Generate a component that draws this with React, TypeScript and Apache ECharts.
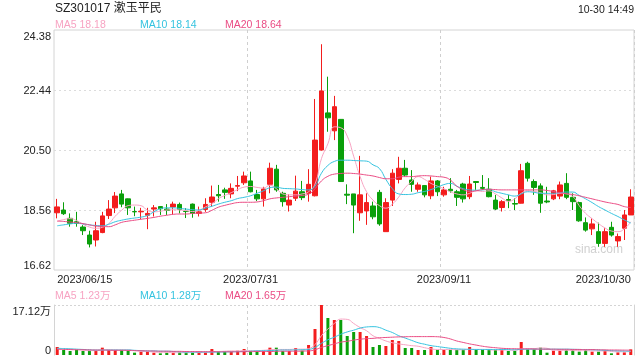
import React, { useEffect, useRef } from "react";
import * as echarts from "echarts";

const dates = [
  "2023/06/15","2023/06/16","2023/06/19","2023/06/20","2023/06/21","2023/06/26","2023/06/27","2023/06/28","2023/06/29","2023/06/30",
  "2023/07/03","2023/07/04","2023/07/05","2023/07/06","2023/07/07","2023/07/10","2023/07/11","2023/07/12","2023/07/13","2023/07/14",
  "2023/07/17","2023/07/18","2023/07/19","2023/07/20","2023/07/21","2023/07/24","2023/07/25","2023/07/26","2023/07/27","2023/07/28",
  "2023/07/31","2023/08/01","2023/08/02","2023/08/03","2023/08/04","2023/08/07","2023/08/08","2023/08/09","2023/08/10","2023/08/11",
  "2023/08/14","2023/08/15","2023/08/16","2023/08/17","2023/08/18","2023/08/21","2023/08/22","2023/08/23","2023/08/24","2023/08/25",
  "2023/08/28","2023/08/29","2023/08/30","2023/08/31","2023/09/01","2023/09/04","2023/09/05","2023/09/06","2023/09/07","2023/09/08",
  "2023/09/11","2023/09/12","2023/09/13","2023/09/14","2023/09/15","2023/09/18","2023/09/19","2023/09/20","2023/09/21","2023/09/22",
  "2023/09/25","2023/09/26","2023/09/27","2023/09/28","2023/10/09","2023/10/10","2023/10/11","2023/10/12","2023/10/13","2023/10/16",
  "2023/10/17","2023/10/18","2023/10/19","2023/10/20","2023/10/23","2023/10/24","2023/10/25","2023/10/26","2023/10/27","2023/10/30",
];

const openP = [18.47,18.56,18.29,18.18,18.01,17.75,17.59,17.83,18.38,18.63, 19.08,18.92,18.51,18.50,18.39,18.59,18.67,18.59,18.66,18.74, 18.52,18.75,18.45,18.58,18.81,19.06,19.21,19.08,19.33,19.44, 19.50,19.06,18.92,19.39,19.88,19.10,18.72,18.94,19.15,19.10, 19.02,20.50,21.70,21.12,21.49,19.07,19.08,18.47,18.53,18.69, 19.13,17.86,18.88,19.55,19.91,19.53,19.23,19.35,19.02,19.50, 19.05,19.23,19.15,19.40,18.99,19.48,19.29,19.23,18.88,18.64, 18.90,18.77,18.78,20.07,19.48,19.34,18.85,18.92,19.01,19.42, 18.97,18.80,18.15,17.95,17.86,17.48,18.00,17.56,17.97,18.40];
const closeP = [18.66,18.44,18.13,18.13,17.89,17.46,17.89,18.37,18.59,19.01, 18.75,18.63,18.50,18.52,18.45,18.63,18.60,18.55,18.75,18.58, 18.51,18.45,18.50,18.74,18.98,19.02,19.13,19.26,19.35,19.66, 19.15,18.92,19.24,19.91,19.21,18.83,18.88,19.17,18.96,19.39, 20.82,22.41,21.54,21.90,19.48,19.04,18.72,19.05,18.80,18.34, 18.11,18.80,19.75,19.91,19.69,19.39,19.37,19.05,19.50,19.15, 19.21,19.18,18.97,18.92,19.40,19.45,19.26,18.99,18.59,18.83, 18.87,18.75,19.83,19.59,19.29,18.78,18.82,19.18,19.37,18.97, 18.83,18.21,17.91,18.11,17.48,17.86,17.75,17.70,18.40,18.98];
const lowP = [18.29,18.40,18.02,18.02,17.75,17.35,17.38,17.81,18.27,18.46, 18.65,18.40,18.36,18.27,17.94,18.35,18.40,18.40,18.42,18.45, 18.30,18.31,18.35,18.50,18.67,18.83,18.92,18.94,19.17,19.37, 19.13,18.85,18.67,19.10,19.15,18.67,18.51,18.85,18.88,18.83, 19.00,20.48,21.09,20.82,19.47,18.75,17.81,18.21,18.08,18.26, 18.05,17.86,18.69,19.42,19.64,19.15,19.15,18.97,18.91,19.01, 18.99,19.12,18.69,18.80,18.91,19.21,19.21,18.97,18.56,18.51, 18.62,18.56,18.77,19.48,19.05,18.47,18.78,18.88,18.91,18.91, 18.56,18.18,17.86,17.75,17.37,17.37,17.70,17.37,17.59,18.40];
const highP = [18.92,18.81,18.45,18.50,18.07,17.89,18.18,18.50,18.88,19.14, 19.21,18.93,18.67,18.63,18.63,18.72,18.68,18.75,18.83,18.80, 18.62,18.77,18.67,18.94,19.35,19.37,19.28,19.42,19.66,19.80, 19.80,19.21,19.31,20.09,20.02,19.15,19.07,19.67,19.50,19.88, 22.15,23.92,22.87,22.25,21.50,19.39,19.08,20.31,19.10,18.83, 19.21,18.94,19.88,20.28,20.18,19.85,19.45,19.36,19.64,19.53, 19.31,19.59,19.21,19.44,19.66,19.48,19.69,19.59,19.05,18.88, 19.05,18.94,20.05,20.12,19.55,19.42,19.31,19.21,19.48,19.75, 19.10,18.83,18.32,18.29,18.15,17.97,18.18,17.80,18.56,19.23];

const ma5 = [18.20,18.25,18.28,18.22,18.10,18.01,17.97,18.00,18.12,18.36, 18.55,18.70,18.72,18.70,18.55,18.50,18.52,18.56,18.57,18.56, 18.54,18.51,18.55,18.66,18.76,18.92,19.03,19.12,19.22,19.30, 19.32,19.29,19.27,19.36,19.25,19.08,19.05,19.05,19.08,19.15, 19.40,20.22,20.70,21.25,21.22,20.95,20.30,19.64,19.15,18.88, 18.70,18.62,18.75,18.98,19.28,19.48,19.64,19.55,19.42,19.33, 19.25,19.15,19.08,19.05,19.10,19.18,19.16,19.18,19.08,18.95, 18.84,18.92,19.10,19.18,19.16,19.12,19.05,19.06,19.10,19.08, 19.00,18.70,18.45,18.28,18.12,17.98,17.88,17.86,17.95,18.18];
const ma10 = [18.05,18.08,18.11,18.13,18.11,18.08,18.06,18.05,18.10,18.18, 18.23,18.27,18.30,18.33,18.38,18.50,18.60,18.63,18.63,18.61, 18.59,18.57,18.56,18.62,18.68,18.75,18.81,18.86,18.93,18.97, 19.02,19.10,19.18,19.28,19.30,19.26,19.25,19.24,19.22,19.21, 19.33,19.75,20.00,20.13,20.17,20.17,20.16,20.15,20.14,20.02, 19.90,19.55,19.25,19.08,19.06,19.07,19.12,19.16,19.22,19.30, 19.38,19.42,19.33,19.25,19.21,19.20,19.21,19.23,19.15,19.10, 19.05,19.01,19.08,19.15,19.13,19.10,19.10,19.10,19.12,19.14, 19.14,19.03,18.92,18.80,18.67,18.56,18.45,18.35,18.24,18.14];
const ma20 = [18.20,18.19,18.17,18.15,18.12,18.08,18.04,18.03,18.02,18.08, 18.16,18.20,18.23,18.26,18.29,18.32,18.36,18.39,18.42,18.43, 18.43,18.45,18.46,18.47,18.55,18.65,18.71,18.76,18.80,18.81, 18.81,18.82,18.86,18.92,18.95,18.97,18.99,19.01,19.03,19.07, 19.25,19.50,19.65,19.72,19.74,19.75,19.74,19.72,19.69,19.66, 19.61,19.57,19.57,19.62,19.64,19.64,19.66,19.67,19.66,19.64, 19.62,19.53,19.33,19.22,19.16,19.18,19.22,19.23,19.22,19.21, 19.21,19.21,19.21,19.21,19.21,19.21,19.19,19.16,19.12,19.09, 19.06,19.02,18.97,18.92,18.87,18.82,18.78,18.74,18.67,18.64];

// volume in 万
const volume = [2.74,1.71,1.37,1.71,1.37,1.37,1.37,2.51,1.71,1.71, 1.71,1.37,0.80,1.14,1.14,0.80,0.57,0.80,0.80,0.91, 0.91,0.80,0.80,0.91,2.05,1.37,1.14,1.14,1.48,2.05, 1.37,1.14,1.37,2.51,2.51,1.37,1.37,2.40,1.48,3.42, 8.90,17.12,12.67,11.98,11.98,6.51,7.88,7.88,6.51,2.74, 3.42,3.08,5.14,4.79,2.40,2.40,1.71,1.71,2.74,1.71, 1.71,1.71,1.71,1.71,2.74,1.71,1.71,1.71,1.71,1.71, 1.37,1.37,4.45,1.94,1.94,2.51,0.80,1.48,1.48,1.71, 1.71,1.14,1.71,1.14,1.14,1.37,0.57,0.91,0.91,1.94];
const volMa5 = [2.2,2.1,2.0,1.9,1.7,1.5,1.5,1.7,1.8,1.8, 1.8,1.8,1.5,1.3,1.2,1.0,0.9,0.9,0.8,0.8, 0.8,0.85,0.85,0.85,1.1,1.2,1.3,1.4,1.4,1.5, 1.5,1.5,1.6,1.8,1.9,1.9,1.9,2.0,2.0,2.2, 3.6,6.6,8.9,10.8,12.3,12.2,10.8,9.4,8.3,6.6, 5.7,4.8,4.2,3.8,3.5,3.2,3.0,2.5,2.1,1.9, 1.9,1.9,1.8,1.8,1.9,1.9,1.9,1.8,1.7,1.7, 1.7,1.6,2.1,2.2,2.2,2.4,2.3,1.6,1.6,1.6, 1.5,1.5,1.5,1.4,1.4,1.4,1.2,1.1,1.1,1.23];
const volMa10 = [2.3,2.2,2.1,2.0,1.9,1.8,1.7,1.7,1.7,1.7, 1.7,1.7,1.6,1.5,1.4,1.4,1.3,1.3,1.2,1.1, 1.0,1.0,1.0,1.0,1.0,1.0,1.05,1.1,1.15,1.2, 1.3,1.4,1.45,1.5,1.6,1.7,1.7,1.75,1.8,1.9, 2.6,4.0,5.2,6.1,7.1,7.9,8.5,9.2,9.6,9.7, 9.4,8.5,7.7,6.6,5.8,5.0,4.2,3.7,3.2,2.9, 2.6,2.3,2.1,2.0,1.95,1.9,1.9,1.9,1.9,1.9, 1.85,1.8,1.9,1.95,2.0,2.0,2.0,2.0,2.0,2.0, 1.95,1.9,1.85,1.8,1.7,1.6,1.5,1.4,1.35,1.28];
const volMa20 = [1.9,1.9,1.85,1.8,1.8,1.75,1.7,1.7,1.65,1.6, 1.6,1.55,1.5,1.45,1.4,1.35,1.3,1.3,1.25,1.25, 1.2,1.2,1.15,1.15,1.15,1.1,1.1,1.1,1.1,1.15, 1.15,1.2,1.2,1.2,1.25,1.3,1.3,1.3,1.35,1.4, 1.8,2.6,3.2,3.8,4.4,4.7,5.1,5.4,5.6,5.7, 5.9,6.0,6.1,6.2,6.25,6.3,6.3,6.3,6.3,6.25, 6.0,5.5,4.8,4.3,3.8,3.4,3.0,2.7,2.5,2.3, 2.2,2.15,2.1,2.1,2.05,2.0,2.0,2.0,1.95,1.95, 1.9,1.9,1.85,1.85,1.8,1.75,1.72,1.7,1.67,1.65];

const priceTicks = { min: 16.62, max: 24.38, step: 1.94 };
const volTicks = { min: 0, max: 17.12 };
const labelIdx = [0, 30, 60, 89];
const splitIdx = [30, 60];

const UP = "#f31d1d";
const DOWN = "#0a9f0a";
const C_MA5 = "#f7a3c2";
const C_MA10 = "#35c3df";
const C_MA20 = "#ea4c84";
const FONT = "'Liberation Sans', Arial, 'Noto Sans CJK SC', sans-serif";

export default function App() {
  const ref = useRef<HTMLDivElement>(null);
  useEffect(() => {
    if (!ref.current) return;
    const chart = echarts.init(ref.current, null, { renderer: "svg" });
    const candles = dates.map((_, i) => [openP[i], closeP[i], lowP[i], highP[i]]);
    const volBars = volume.map((v, i) => ({
      value: v,
      itemStyle: { color: closeP[i] >= openP[i] ? UP : DOWN },
    }));
    const last = dates.length - 1;
    const txt = (x: number, y: number, text: string, fill: string, size: number, align = "left") => ({
      type: "text",
      x,
      y,
      silent: true,
      style: {
        text,
        fill,
        fontSize: size,
        fontFamily: FONT,
        align,
        verticalAlign: "middle",
        textAlign: align,
        textVerticalAlign: "middle",
      },
    });
    const lineSeries = (name: string, data: number[], color: string, xi: number, yi: number) => ({
      name,
      type: "line",
      xAxisIndex: xi,
      yAxisIndex: yi,
      data,
      smooth: true,
      showSymbol: false,
      symbol: "none",
      lineStyle: { color, width: 1 },
      itemStyle: { color },
      z: 5,
    });
    const splitLineCfg = {
      show: true,
      interval: (i: number) => splitIdx.includes(i),
      lineStyle: { color: "#cfcfcf", type: [3, 3], width: 1 },
    };
    chart.setOption({
      animation: false,
      textStyle: { fontFamily: FONT },
      grid: [
        { left: 54, right: 6, top: 30, height: 240, show: true, borderColor: "#d4d4d4", borderWidth: 1, backgroundColor: "transparent" },
        { left: 54, right: 6, top: 305, height: 50 },
      ],
      xAxis: [
        {
          type: "category",
          gridIndex: 0,
          data: dates,
          boundaryGap: true,
          axisLine: { show: false },
          axisTick: { show: false },
          axisLabel: {
            interval: (i: number) => labelIdx.includes(i),
            fontSize: 11,
            color: "#222",
            margin: 3,
            alignMinLabel: "left",
            alignMaxLabel: "right",
          },
          splitLine: splitLineCfg,
        },
        {
          type: "category",
          gridIndex: 1,
          data: dates,
          boundaryGap: true,
          axisLine: { show: false },
          axisTick: { show: false },
          axisLabel: { show: false },
          splitLine: splitLineCfg,
        },
      ],
      yAxis: [
        {
          type: "value",
          gridIndex: 0,
          min: priceTicks.min,
          max: priceTicks.max,
          interval: priceTicks.step,
          axisLine: { show: false },
          axisTick: { show: false },
          axisLabel: {
            fontSize: 11,
            color: "#222",
            margin: 3,
            formatter: (v: number) => v.toFixed(2),
            verticalAlignMinLabel: "bottom",
            verticalAlignMaxLabel: "top",
          },
          splitLine: {
            show: true,
            showMinLine: false,
            showMaxLine: false,
            lineStyle: { color: "#dcdcdc", type: [2, 3], width: 1 },
          },
        },
        {
          type: "value",
          gridIndex: 1,
          min: volTicks.min,
          max: volTicks.max,
          interval: volTicks.max,
          axisLine: { show: true, lineStyle: { color: "#d4d4d4" } },
          axisTick: { show: false },
          axisLabel: {
            fontSize: 11,
            color: "#222",
            margin: 3,
            formatter: (v: number) => (v === 0 ? "0" : v.toFixed(2) + "万"),
            verticalAlignMinLabel: "bottom",
            verticalAlignMaxLabel: "top",
          },
          splitLine: {
            show: true,
            showMinLine: false,
            lineStyle: { color: "#d4d4d4", type: [2, 2], width: 1 },
          },
        },
        {
          type: "value",
          gridIndex: 1,
          position: "right",
          min: volTicks.min,
          max: volTicks.max,
          axisLine: { show: true, lineStyle: { color: "#d4d4d4" } },
          axisTick: { show: false },
          axisLabel: { show: false },
          splitLine: { show: false },
        },
      ],
      series: [
        {
          name: "K",
          type: "candlestick",
          xAxisIndex: 0,
          yAxisIndex: 0,
          data: candles,
          barWidth: 5,
          itemStyle: {
            color: UP,
            color0: DOWN,
            borderColor: UP,
            borderColor0: DOWN,
            borderWidth: 1,
          },
          z: 3,
        },
        lineSeries("MA5", ma5, C_MA5, 0, 0),
        lineSeries("MA10", ma10, C_MA10, 0, 0),
        lineSeries("MA20", ma20, C_MA20, 0, 0),
        {
          name: "VOL",
          type: "bar",
          xAxisIndex: 1,
          yAxisIndex: 1,
          data: volBars,
          barWidth: 3,
          z: 3,
        },
        lineSeries("VMA5", volMa5, C_MA5, 1, 1),
        lineSeries("VMA10", volMa10, C_MA10, 1, 1),
        lineSeries("VMA20", volMa20, C_MA20, 1, 1),
      ],
      graphic: [
        txt(55, 8, "SZ301017 漱玉平民", "#222", 12),
        txt(634, 9, "10-30 14:49", "#222", 10.5, "right"),
        txt(55, 24, "MA5 " + ma5[last].toFixed(2), C_MA5, 10.5),
        txt(140, 24, "MA10 " + ma10[last].toFixed(2), C_MA10, 10.5),
        txt(225, 24, "MA20 " + ma20[last].toFixed(2), C_MA20, 10.5),
        txt(55, 295, "MA5 " + volMa5[last].toFixed(2) + "万", C_MA5, 10.5),
        txt(140, 295, "MA10 " + volMa10[last].toFixed(2) + "万", C_MA10, 10.5),
        txt(225, 295, "MA20 " + volMa20[last].toFixed(2) + "万", C_MA20, 10.5),
        txt(623, 249, "sina.com", "#d0d0d0", 12, "right"),
      ],
    });
    return () => chart.dispose();
  }, []);
  return <div ref={ref} style={{ width: 640, height: 360, position: "fixed", left: 0, top: 0 }} />;
}
